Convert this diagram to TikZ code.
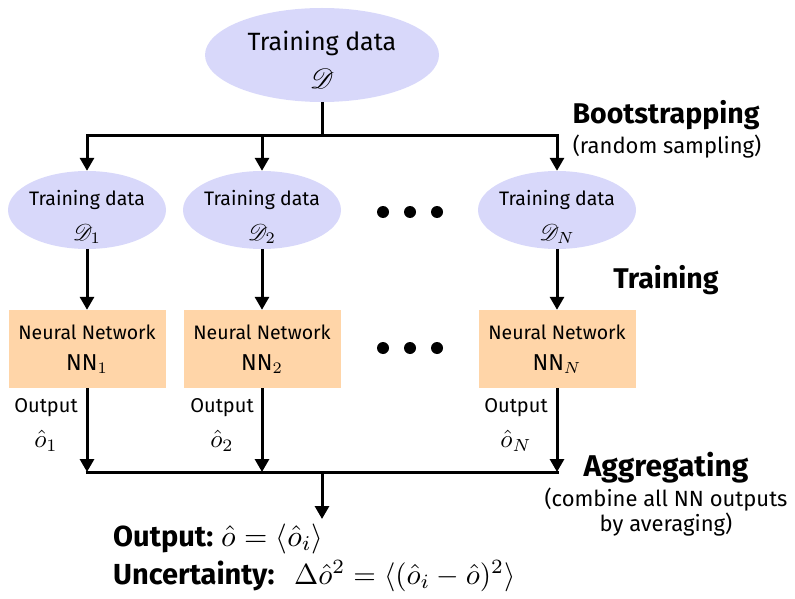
\documentclass[tikz,border=0pt]{standalone}
\usepackage{fontspec}
\setmainfont{Fira Sans}
\usepackage{mathrsfs}
\usepackage{graphicx}
\usetikzlibrary{arrows.meta,shapes.geometric}

% math set at 10pt and scaled up as a whole
\newcommand{\mscale}[2]{\scalebox{#1}{\fontsize{10}{12}\selectfont$#2$}}

\definecolor{dataFill}{RGB}{216,216,250}
\definecolor{nnFill}{RGB}{255,213,168}

\begin{document}
\begin{tikzpicture}[x=1pt,y=-1pt,
  bigcloud/.style={ellipse, fill=dataFill, minimum width=234, minimum height=94, inner sep=0pt},
  datacloud/.style={ellipse, fill=dataFill, minimum width=158, minimum height=78, inner sep=0pt},
  nnbox/.style={rectangle, fill=nnFill, minimum width=157, minimum height=78, inner sep=0pt},
  wire/.style={line width=3pt},
  link/.style={line width=3pt, -{Triangle[length=13pt,width=14pt]}},
  inner/.style={inner sep=0pt, font=\fontsize{19.5}{23}\selectfont},
  plain/.style={inner sep=0pt},
  outlbl/.style={inner sep=0pt, font=\fontsize{20}{24}\selectfont},
  steplabel/.style={font=\fontsize{28.5}{32}\selectfont\bfseries},
  notelabel/.style={font=\fontsize{22}{25.5}\selectfont, align=center},
  resultlbl/.style={anchor=base west, inner sep=0pt, font=\fontsize{29}{33}\selectfont\bfseries},
  resultmath/.style={anchor=base west, inner sep=0pt},
  dots/.style={circle, fill=black, inner sep=0pt, minimum size=12pt}
]
\useasboundingbox (0,0) rectangle (795,599);

% full training set
\node[bigcloud] (D) at (322,55) {};
\node[plain, font=\fontsize{25}{30}\selectfont] (Dtxt) at (322,43) {Training data};
\node[plain] (Dsym) at (322,79) {\mscale{2.8}{\mathscr{D}}};

% bootstrap samples, networks and their outputs
\foreach \k/\x/\s in {1/87/1, 2/262/2, N/557/N}{
  \node[datacloud] (d\k) at (\x,210) {};
  \node[inner] (d\k txt) at (\x,200) {Training data};
  \node[plain] (d\k sym) at (\x,234) {\mscale{2.3}{\mathscr{D}_{\s}}};
  \node[nnbox] (n\k) at (\x,349) {};
  \node[inner] (n\k txt) at (\x,332) {Neural Network};
  \node[plain, font=\fontsize{23}{26}\selectfont] (n\k sym) at (\x,364)
    {NN\mscale{2.3}{{}_{\s}}};
}
\foreach \k/\x/\s in {1/46/1, 2/222/2, N/516/N}{
  \node[outlbl] (o\k txt) at (\x,408) {Output};
  \node[plain] (o\k) at (\x,441) {\mscale{2.5}{\hat{o}_{\s}}};
}

% ellipsis dots
\foreach \y/\r in {212/a,348/b}{
  \node[dots] (\r1) at (383,\y) {};
  \node[dots] (\r2) at (410,\y) {};
  \node[dots] (\r3) at (437,\y) {};
}

% bootstrapping split
\coordinate (split) at (322,136);
\draw[link] (D.south) -- (split) -| (d1.north);
\draw[link] (split) -| (d2.north);
\draw[link] (split) -| (dN.north);

% training
\draw[link] (d1.south) -- (n1.north);
\draw[link] (d2.south) -- (n2.north);
\draw[link] (dN.south) -- (nN.north);

% outputs and aggregation
\coordinate (j1) at (87,472);
\coordinate (j2) at (262,472);
\coordinate (jN) at (557,472);
\coordinate (merge) at (322,472);
\coordinate (tip) at (322,519);
\draw[link] (n1.south) -- (j1);
\draw[link] (n2.south) -- (j2);
\draw[link] (nN.south) -- (jN);
\draw[wire] ([xshift=-1.5pt]j1) -- ([xshift=1.5pt]jN);
\draw[link] (merge) -- (tip);

% final result
\node[resultlbl] (res) at (113,546) {Output:};
\node[resultmath] (resmath) at (221,546)
  {\mscale{3.0}{\hat{o} = \langle \hat{o}_i \rangle}};
\node[resultlbl] (unc) at (113,584) {Uncertainty:};
\node[resultmath] (uncmath) at (294,584)
  {\mscale{2.9}{\Delta\hat{o}^2 = \langle (\hat{o}_i - \hat{o})^2 \rangle}};

% stage labels
\node[steplabel] (boot) at (666,115) {Bootstrapping};
\node[notelabel] (bootnote) at (667,147) {(random sampling)};
\node[steplabel] (train) at (666,280) {Training};
\node[steplabel, font=\fontsize{30}{33}\selectfont\bfseries] (agg) at (666,468) {Aggregating};
\node[notelabel] (aggnote) at (666,512) {(combine all NN outputs\\ by averaging)};
\end{tikzpicture}
\end{document}
